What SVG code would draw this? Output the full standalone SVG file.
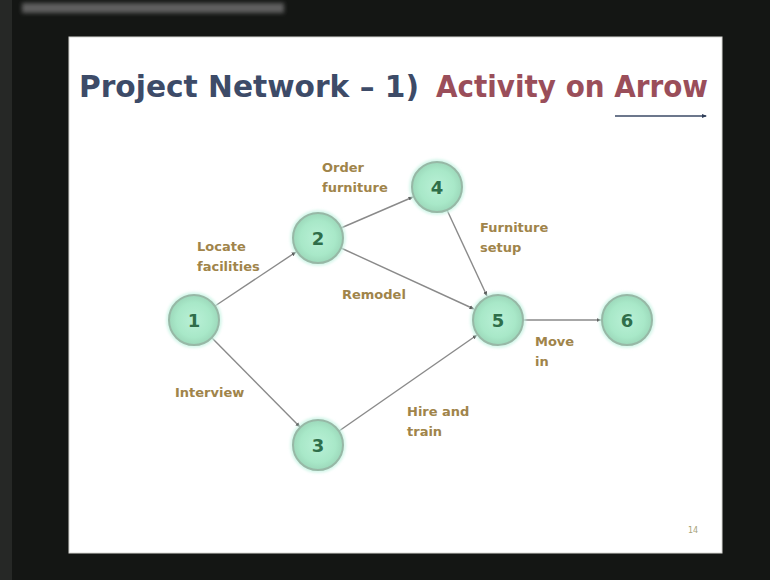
<svg xmlns="http://www.w3.org/2000/svg" width="770" height="580" viewBox="0 0 770 580">
  <defs>
    <radialGradient id="nodeFill" cx="50%" cy="50%" r="50%">
      <stop offset="0%" stop-color="#b9f0d6"/>
      <stop offset="70%" stop-color="#a8e8c8"/>
      <stop offset="100%" stop-color="#9cd8ba"/>
    </radialGradient>
    <filter id="soft" x="-20%" y="-50%" width="140%" height="200%">
      <feGaussianBlur stdDeviation="2"/>
    </filter>
    <filter id="glow" x="-30%" y="-30%" width="160%" height="160%">
      <feGaussianBlur stdDeviation="1.5"/>
    </filter>
    <marker id="head" viewBox="0 0 10 10" refX="9" refY="5" markerWidth="5" markerHeight="5" orient="auto" markerUnits="userSpaceOnUse">
      <path d="M0,1 L10,5 L0,9 Z" fill="#555"/>
    </marker>
    <marker id="ulHead" viewBox="0 0 10 10" refX="8" refY="5" markerWidth="5" markerHeight="5" orient="auto" markerUnits="userSpaceOnUse">
      <path d="M0,1 L10,5 L0,9 Z" fill="#2f3d58"/>
    </marker>
  </defs>
  <style>
    .title { font-family: "DejaVu Sans", Verdana, sans-serif; font-weight: bold; font-size: 30px; }
    .t1 { fill: #3d4b68; }
    .t2 { fill: #9a4e5a; }
    .edge { stroke: #8a8a8a; stroke-width: 1.4; fill: none; marker-end: url(#head); }
    .ring { fill: url(#nodeFill); stroke: #97b8a6; stroke-width: 2; }
    .halo { fill: none; stroke: #c8f4e4; stroke-width: 3; filter: url(#glow); }
    .num { font-family: "DejaVu Sans", Verdana, sans-serif; font-weight: bold; font-size: 18px; fill: #2f6e4a; text-anchor: middle; }
    .lbl { font-family: "DejaVu Sans", Verdana, sans-serif; font-weight: bold; font-size: 13px; fill: #a0844a; }
  </style>

  <!-- projection surround -->
  <rect x="0" y="0" width="770" height="580" fill="#141614"/>
  <rect x="0" y="0" width="12" height="580" fill="#262826"/>
  <rect x="22" y="3" width="262" height="10" fill="#5e5e5e" filter="url(#soft)"/>

  <!-- slide -->
  <rect x="69" y="37" width="653" height="516" fill="#ffffff" stroke="#d8d8d4" stroke-width="1"/>

  <!-- title -->
  <text class="title t1" x="79" y="97" textLength="340" lengthAdjust="spacingAndGlyphs">Project Network – 1)</text>
  <text class="title t2" x="436" y="97" textLength="272" lengthAdjust="spacingAndGlyphs">Activity on Arrow</text>
  <line x1="615" y1="116" x2="706" y2="116" stroke="#3b4a66" stroke-width="1.5" marker-end="url(#ulHead)"/>

  <!-- connectors -->
  <g id="connectors">
    <line class="edge" x1="215" y1="306" x2="296" y2="252"/>
    <line class="edge" x1="341" y1="228" x2="413" y2="197"/>
    <line class="edge" x1="341" y1="248" x2="474" y2="309"/>
    <line class="edge" x1="447" y1="210" x2="487" y2="296"/>
    <line class="edge" x1="212" y1="338" x2="300" y2="427"/>
    <line class="edge" x1="339" y1="431" x2="477" y2="335"/>
    <line class="edge" x1="523" y1="320" x2="601" y2="320"/>
  </g>

  <!-- activity labels -->
  <g id="labels">
    <text class="lbl" x="322" y="172">Order</text>
    <text class="lbl" x="322" y="192">furniture</text>
    <text class="lbl" x="197" y="251">Locate</text>
    <text class="lbl" x="197" y="271">facilities</text>
    <text class="lbl" x="342" y="299">Remodel</text>
    <text class="lbl" x="480" y="232">Furniture</text>
    <text class="lbl" x="480" y="252">setup</text>
    <text class="lbl" x="535" y="346">Move</text>
    <text class="lbl" x="535" y="366">in</text>
    <text class="lbl" x="175" y="397">Interview</text>
    <text class="lbl" x="407" y="416">Hire and</text>
    <text class="lbl" x="407" y="436">train</text>
  </g>

  <!-- event nodes -->
  <g id="node1">
    <circle class="halo" cx="194" cy="320" r="26"/>
    <circle class="ring" cx="194" cy="320" r="25"/>
    <text class="num" x="194" y="327">1</text>
  </g>
  <g id="node2">
    <circle class="halo" cx="318" cy="238" r="26"/>
    <circle class="ring" cx="318" cy="238" r="25"/>
    <text class="num" x="318" y="245">2</text>
  </g>
  <g id="node3">
    <circle class="halo" cx="318" cy="445" r="26"/>
    <circle class="ring" cx="318" cy="445" r="25"/>
    <text class="num" x="318" y="452">3</text>
  </g>
  <g id="node4">
    <circle class="halo" cx="437" cy="187" r="26"/>
    <circle class="ring" cx="437" cy="187" r="25"/>
    <text class="num" x="437" y="194">4</text>
  </g>
  <g id="node5">
    <circle class="halo" cx="498" cy="320" r="26"/>
    <circle class="ring" cx="498" cy="320" r="25"/>
    <text class="num" x="498" y="327">5</text>
  </g>
  <g id="node6">
    <circle class="halo" cx="627" cy="320" r="26"/>
    <circle class="ring" cx="627" cy="320" r="25"/>
    <text class="num" x="627" y="327">6</text>
  </g>

  <!-- slide number -->
  <text x="688" y="533" font-family="DejaVu Sans, sans-serif" font-size="8" fill="#a8a27a">14</text>
</svg>
